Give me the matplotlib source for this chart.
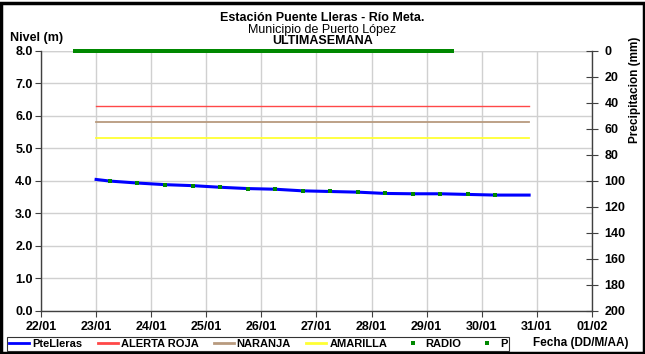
import matplotlib
matplotlib.use("Agg")
import matplotlib.pyplot as plt
import matplotlib.dates as mdates
import numpy as np
import pandas as pd
from matplotlib.lines import Line2D
from matplotlib.patches import Rectangle

plt.rcParams["font.family"] = ["Liberation Sans", "DejaVu Sans"]

# nivel (m)
nivel_t = ["2013-01-23 00:00", "2013-01-23 06:00", "2013-01-23 18:00", "2013-01-24 06:00",
           "2013-01-24 18:00", "2013-01-25 06:00", "2013-01-25 18:00", "2013-01-26 06:00",
           "2013-01-26 18:00", "2013-01-27 06:00", "2013-01-27 18:00", "2013-01-28 06:00",
           "2013-01-28 18:00", "2013-01-29 06:00", "2013-01-29 18:00", "2013-01-30 06:00",
           "2013-01-30 20:40"]
nivel = [4.04, 3.99, 3.93, 3.88, 3.85, 3.80, 3.76, 3.74, 3.69, 3.67, 3.65,
         3.61, 3.60, 3.60, 3.58, 3.56, 3.56]

# radio readings (every 12 h)
radio_t = nivel_t[1:-1]
radio = nivel[1:-1]

# alert thresholds
umbral_t = ["2013-01-23 00:00", "2013-01-30 20:40"]
alerta_roja = 6.3
naranja = 5.8
amarilla = 5.3

# precipitacion (mm), hourly, all zero
p_inicio, p_fin = "2013-01-22 15:00", "2013-01-29 11:00"

x_ini, x_fin = pd.Timestamp("2013-01-22"), pd.Timestamp("2013-02-01")

fig = plt.figure(figsize=(6.45, 3.54), dpi=100)
ax = fig.add_axes([0.0636, 0.1215, 0.854, 0.7358])
ax2 = ax.twinx()

c_blue = "#0000FF"
c_red = "#FF4848"
c_tan = "#B89A7E"
c_yel = "#FFFF33"
c_green = "#008800"

t_n = pd.to_datetime(nivel_t)
ax.plot(t_n, nivel, color=c_blue, lw=2.2, zorder=4)
ax.plot(pd.to_datetime(radio_t), radio, ls="none", marker="s", ms=3, mew=0,
        color=c_green, zorder=5)
tu = pd.to_datetime(umbral_t)
ax.plot(tu, [alerta_roja] * 2, color=c_red, lw=1, zorder=3)
ax.plot(tu, [naranja] * 2, color=c_tan, lw=1.3, zorder=3)
ax.plot(tu, [amarilla] * 2, color=c_yel, lw=1.3, zorder=3)

p_t = pd.date_range(p_inicio, p_fin, freq="h")
p_val = np.zeros(len(p_t))
ax2.plot(p_t, p_val, ls="none", marker="s", ms=3, mew=0, color=c_green,
         clip_on=False, zorder=5)

ax.set_xlim(x_ini, x_fin)
ax.set_ylim(0, 8)
ax.set_yticks(np.arange(0, 8.1, 1.0))
ax.yaxis.set_major_formatter(matplotlib.ticker.FormatStrFormatter("%.1f"))
ax.xaxis.set_major_locator(mdates.DayLocator())
ax.xaxis.set_major_formatter(mdates.DateFormatter("%d/%m"))
ax.grid(True, color="#D0D0D0", lw=1)
ax.set_axisbelow(True)

ax2.set_ylim(200, 0)
ax2.set_yticks(np.arange(0, 201, 20))

for a in (ax, ax2):
    a.spines["top"].set_visible(False)
    for s in a.spines.values():
        s.set_color("#404040")
        s.set_linewidth(1)
ax.spines["right"].set_visible(False)
ax2.spines["left"].set_visible(False)
ax2.spines["bottom"].set_visible(False)
ax.axhline(8, color="#D0D0D0", lw=1, zorder=0)

ax.tick_params(axis="both", labelsize=9, length=4, color="#404040", pad=2)
ax.tick_params(axis="x", pad=3)
ax2.tick_params(axis="y", labelsize=9, length=8, direction="inout", color="#404040", pad=5)
for lab in ax.get_xticklabels() + ax.get_yticklabels() + ax2.get_yticklabels():
    lab.set_fontweight("bold")

fig.text(0.015, 0.893, "Nivel (m)", fontsize=9, fontweight="bold", va="center")
fig.text(0.984, 0.745, "Precipitacion (mm)", fontsize=8.5, fontweight="bold",
         rotation=90, va="center", ha="center")

fig.text(0.5, 0.948, "Estación Puente Lleras - Río Meta.", fontsize=9,
         fontweight="bold", ha="center", va="center")
fig.text(0.5, 0.915, "Municipio de Puerto López", fontsize=9, ha="center", va="center")
fig.text(0.5, 0.883, "ULTIMASEMANA", fontsize=9, fontweight="bold", ha="center", va="center")

handles = [
    Line2D([], [], color=c_blue, lw=2),
    Line2D([], [], color=c_red, lw=2),
    Line2D([], [], color=c_tan, lw=2),
    Line2D([], [], color=c_yel, lw=2),
    Line2D([], [], ls="none", marker="s", ms=3, mew=0, color=c_green),
    Line2D([], [], ls="none", marker="s", ms=3, mew=0, color=c_green),
]
labels = ["PteLleras", "ALERTA ROJA", "NARANJA", "AMARILLA", "RADIO", "P"]
leg = fig.legend(handles, labels, loc="center left", bbox_to_anchor=(0.011, 0.029),
                 ncol=6, fontsize=8, frameon=True, fancybox=False, edgecolor="black",
                 handlelength=1.8, handletextpad=0.25, columnspacing=1.4,
                 borderpad=0.2, borderaxespad=0)
leg.get_frame().set_linewidth(0.8)
for t in leg.get_texts():
    t.set_fontweight("bold")

fig.text(0.826, 0.031, "Fecha (DD/M/AA)", fontsize=8.5, fontweight="bold", va="center")

fig.patches.append(Rectangle((0.002, 0.003), 0.996, 0.988, transform=fig.transFigure,
                             fill=False, edgecolor="black", lw=2.5))

fig.savefig("out.png", dpi=100)
